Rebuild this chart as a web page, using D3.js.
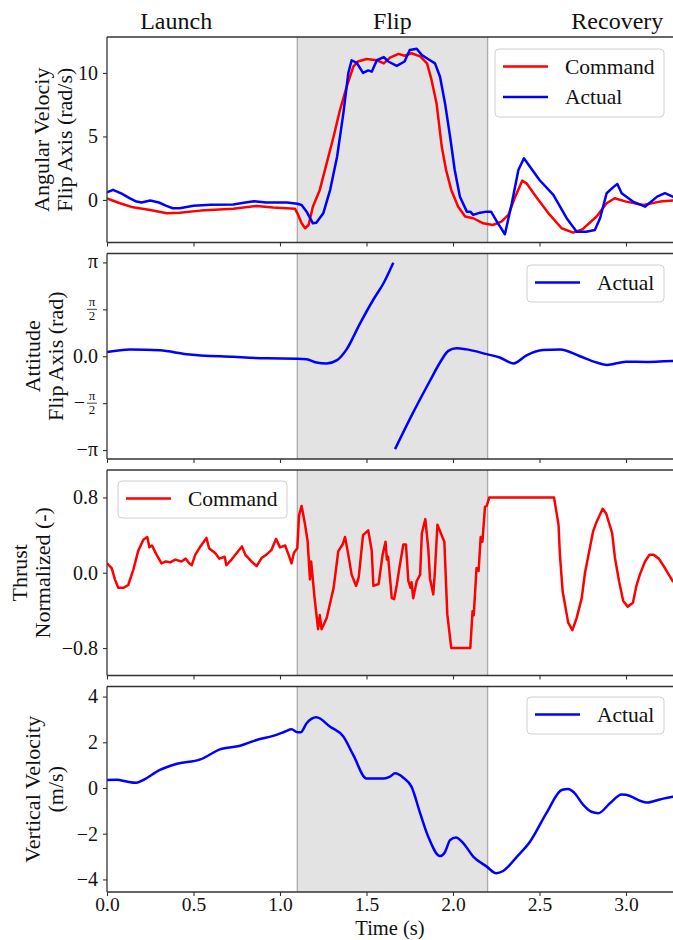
<!DOCTYPE html>
<html>
<head>
<meta charset="utf-8">
<script src="https://cdn.jsdelivr.net/npm/d3@7/dist/d3.min.js"></script>
<style>
  body { margin: 0; background: #fff; }
  svg { display: block; font-family: "Liberation Serif", "Times New Roman", serif; }
</style>
</head>
<body>
<svg id="chart" width="673" height="940"></svg>
<script>
'use strict'

// ---- data ----
const phaseNames = ['Launch', 'Flip', 'Recovery']
const phaseCenters = [0.4, 1.65, 2.95]
const flipSpan = [1.1, 2.2]
const timeTicks = [0, 0.5, 1.0, 1.5, 2.0, 2.5, 3.0]

// angular velocity, [time s, rad/s]
const rateCommand = [[0,0.13],[0.075,-0.26],[0.15,-0.58],[0.25,-0.79],[0.345,-1.05],[0.42,-1.0],[0.54,-0.84],[0.73,-0.7],[0.865,-0.47],[0.96,-0.6],[1.087,-0.7],[1.105,-1.18],[1.125,-1.84],[1.145,-2.23],[1.165,-1.97],[1.19,-0.53],[1.23,0.79],[1.27,2.9],[1.31,5.0],[1.347,7.1],[1.385,8.9],[1.424,10.5],[1.45,10.9],[1.5,11.1],[1.56,11.0],[1.6,10.75],[1.636,11.2],[1.685,11.5],[1.72,11.35],[1.76,11.55],[1.81,11.3],[1.85,10.75],[1.876,9.45],[1.905,7.6],[1.935,4.2],[1.96,2.36],[1.99,0.79],[2.03,-0.53],[2.07,-1.3],[2.117,-1.44],[2.175,-1.84],[2.23,-1.97],[2.28,-1.7],[2.32,-1.18],[2.36,0.26],[2.4,1.52],[2.425,1.31],[2.48,0.26],[2.56,-1.18],[2.628,-2.23],[2.695,-2.57],[2.75,-2.3],[2.83,-1.3],[2.888,-0.26],[2.935,0.13],[3.0,-0.13],[3.1,-0.4],[3.196,-0.13],[3.27,-0.05],[3.3,-0.05]]
const rateActual = [[0,0.6],[0.035,0.8],[0.085,0.5],[0.13,0.15],[0.17,-0.13],[0.2,-0.2],[0.25,-0.05],[0.3,-0.2],[0.34,-0.45],[0.38,-0.65],[0.42,-0.65],[0.5,-0.45],[0.6,-0.37],[0.73,-0.35],[0.8,-0.2],[0.85,-0.1],[0.92,-0.2],[1.04,-0.2],[1.1,-0.3],[1.125,-0.4],[1.154,-0.92],[1.19,-1.84],[1.21,-1.8],[1.25,-1.05],[1.29,0.8],[1.33,3.4],[1.366,6.8],[1.395,10.0],[1.414,11.0],[1.443,10.8],[1.48,10.0],[1.51,10.2],[1.53,10.1],[1.56,11.0],[1.6,11.25],[1.626,10.9],[1.675,10.55],[1.72,10.9],[1.75,11.8],[1.79,11.9],[1.82,11.4],[1.867,11.0],[1.896,10.75],[1.925,9.7],[1.954,7.6],[1.983,5.0],[2.01,2.36],[2.04,0.26],[2.08,-0.92],[2.1,-0.92],[2.117,-1.18],[2.156,-1.0],[2.195,-0.92],[2.22,-0.92],[2.26,-1.84],[2.3,-2.7],[2.34,-0.26],[2.378,2.36],[2.41,3.28],[2.445,2.62],[2.5,1.57],[2.58,0.4],[2.657,-1.44],[2.715,-2.5],[2.77,-2.5],[2.82,-2.36],[2.85,-1.44],[2.888,0.53],[2.93,1.05],[2.95,1.26],[2.975,0.53],[3.04,-0.13],[3.11,-0.53],[3.18,0.26],[3.225,0.53],[3.27,0.26],[3.3,0.3]]

// attitude, [time s, rad]; null marks the wrap from +pi to -pi
const attitudeActual = [[0,0.14],[0.133,0.23],[0.306,0.2],[0.46,0.07],[0.73,-0.02],[0.923,-0.07],[1.1,-0.08],[1.154,-0.1],[1.21,-0.21],[1.27,-0.24],[1.33,-0.13],[1.385,0.23],[1.46,1.07],[1.54,1.9],[1.6,2.46],[1.655,3.13],null,[1.665,-3.11],[1.77,-1.88],[1.867,-0.82],[1.925,-0.21],[1.973,0.18],[2.02,0.27],[2.08,0.23],[2.195,0.07],[2.27,-0.04],[2.35,-0.24],[2.425,0.03],[2.52,0.21],[2.62,0.23],[2.73,0.01],[2.83,-0.21],[2.89,-0.29],[3.0,-0.18],[3.12,-0.19],[3.27,-0.16],[3.3,-0.16]]

// normalized thrust command
const thrustCommand = [[0,0.1],[0.027,0.05],[0.046,-0.07],[0.065,-0.16],[0.094,-0.16],[0.123,-0.13],[0.152,0.03],[0.18,0.23],[0.21,0.35],[0.233,0.38],[0.245,0.27],[0.26,0.29],[0.287,0.19],[0.315,0.1],[0.34,0.12],[0.365,0.11],[0.395,0.14],[0.43,0.12],[0.455,0.15],[0.475,0.1],[0.49,0.08],[0.51,0.19],[0.54,0.28],[0.575,0.37],[0.59,0.26],[0.625,0.21],[0.65,0.15],[0.68,0.17],[0.69,0.08],[0.72,0.14],[0.75,0.21],[0.78,0.28],[0.8,0.19],[0.835,0.12],[0.865,0.07],[0.895,0.16],[0.92,0.19],[0.95,0.24],[0.977,0.36],[1.0,0.27],[1.03,0.29],[1.05,0.19],[1.067,0.1],[1.08,0.21],[1.1,0.26],[1.11,0.61],[1.125,0.71],[1.145,0.51],[1.16,0.33],[1.173,-0.07],[1.18,0.12],[1.2,-0.27],[1.22,-0.6],[1.23,-0.45],[1.24,-0.6],[1.27,-0.48],[1.31,-0.16],[1.337,0.23],[1.362,0.3],[1.376,0.38],[1.395,0.19],[1.414,-0.02],[1.44,-0.14],[1.455,-0.05],[1.48,0.4],[1.51,0.45],[1.53,0.24],[1.54,-0.14],[1.57,-0.12],[1.593,0.19],[1.61,0.33],[1.618,0.14],[1.625,0.17],[1.646,-0.27],[1.66,-0.28],[1.675,-0.13],[1.69,0.05],[1.713,0.3],[1.728,0.3],[1.742,-0.09],[1.755,-0.16],[1.76,-0.1],[1.77,-0.27],[1.79,-0.09],[1.81,-0.02],[1.82,0.42],[1.84,0.57],[1.857,0.26],[1.867,-0.06],[1.886,-0.23],[1.895,0.0],[1.91,0.51],[1.95,0.33],[1.967,-0.44],[1.99,-0.8],[2.1,-0.8],[2.113,-0.41],[2.12,-0.45],[2.136,0.05],[2.148,0.02],[2.16,0.38],[2.17,0.33],[2.185,0.7],[2.195,0.71],[2.21,0.8],[2.584,0.8],[2.61,0.51],[2.618,0.19],[2.634,-0.2],[2.666,-0.53],[2.69,-0.61],[2.715,-0.48],[2.744,-0.27],[2.763,0.0],[2.78,0.16],[2.81,0.44],[2.83,0.54],[2.865,0.68],[2.885,0.63],[2.92,0.42],[2.936,0.16],[2.96,-0.09],[2.984,-0.3],[3.01,-0.36],[3.04,-0.32],[3.06,-0.14],[3.08,-0.02],[3.11,0.12],[3.135,0.19],[3.16,0.19],[3.19,0.15],[3.225,0.05],[3.27,-0.09],[3.3,-0.12]]

// vertical velocity, m/s
const vzActual = [[0,0.35],[0.056,0.36],[0.114,0.28],[0.17,0.23],[0.21,0.35],[0.306,0.79],[0.4,1.05],[0.54,1.25],[0.653,1.69],[0.77,1.85],[0.865,2.1],[0.96,2.28],[1.03,2.47],[1.067,2.57],[1.1,2.44],[1.12,2.44],[1.154,2.83],[1.21,3.09],[1.29,2.68],[1.366,2.25],[1.424,1.44],[1.5,0.42],[1.56,0.42],[1.6,0.42],[1.636,0.5],[1.665,0.64],[1.713,0.45],[1.76,0.06],[1.81,-1.1],[1.857,-2.13],[1.925,-2.98],[1.954,-2.8],[1.983,-2.28],[2.017,-2.17],[2.06,-2.42],[2.117,-3.0],[2.195,-3.44],[2.25,-3.73],[2.29,-3.63],[2.37,-3.0],[2.445,-2.35],[2.54,-1.1],[2.628,-0.09],[2.666,-0.04],[2.7,-0.2],[2.753,-0.74],[2.8,-1.04],[2.84,-1.1],[2.907,-0.67],[2.975,-0.28],[3.0,-0.3],[3.12,-0.64],[3.196,-0.5],[3.27,-0.38],[3.3,-0.36]]

const rateTicks = [0, 5, 10]
const attitudeTicks = [-Math.PI, -Math.PI / 2, 0, Math.PI / 2, Math.PI]
const thrustTicks = [-0.8, 0, 0.8]
const vzTicks = [-4, -2, 0, 2, 4]

// ---- layout ----
const svg = d3.select('#chart')
const left = 107, panelH = 205.5
const x = d3.scaleLinear().domain([0, 3.3]).range([left, left + 3.3 * 173])
const plotRight = 673
const spine = '#333'
const minus = s => String(s).replace('-', '\u2212')

const panels = [
  { top: 37, domain: [-3.35, 12.83], ticks: rateTicks, tickFmt: d => minus(d),
    label: ['Angular Velociy', 'Flip Axis (rad/s)'], labelX: [42, 65],
    series: [{ data: rateCommand, color: 'red', name: 'Command' },
             { data: rateActual, color: 'blue', name: 'Actual' }],
    legend: { x: 495, y: 49, w: 169, h: 68 } },
  { top: 253.5, domain: [-3.44, 3.44], ticks: attitudeTicks, piTicks: true,
    label: ['Attitude', 'Flip Axis (rad)'], labelX: [33, 56],
    series: [{ data: attitudeActual, color: 'blue', name: 'Actual', smooth: true }],
    legend: { x: 527, y: 265, w: 137, h: 37 } },
  { top: 470, domain: [-1.092, 1.092], ticks: thrustTicks, tickFmt: d => minus(d.toFixed(1)),
    label: ['Thrust', 'Normalized (-)'], labelX: [20, 43],
    series: [{ data: thrustCommand, color: 'red', name: 'Command' }],
    legend: { x: 118, y: 481, w: 169, h: 37 } },
  { top: 686.5, domain: [-4.55, 4.44], ticks: vzTicks, tickFmt: d => minus(d),
    label: ['Vertical Velocity', '(m/s)'], labelX: [33, 56],
    series: [{ data: vzActual, color: 'blue', name: 'Actual', smooth: true }],
    legend: { x: 527, y: 697, w: 137, h: 37 } }
]

// phase titles
svg.selectAll('.phase').data(phaseNames).enter().append('text')
  .attr('class', 'phase')
  .attr('x', (d, i) => x(phaseCenters[i]))
  .attr('y', 29)
  .attr('text-anchor', 'middle')
  .attr('font-size', 24)
  .attr('fill', '#111')
  .text(d => d)

panels.forEach((p, pi) => {
  const bottom = p.top + panelH
  const y = d3.scaleLinear().domain(p.domain).range([bottom, p.top])
  const g = svg.append('g')

  g.append('clipPath').attr('id', 'clip' + pi)
    .append('rect').attr('x', left).attr('y', p.top).attr('width', plotRight - left).attr('height', panelH)

  // flip window
  g.append('rect')
    .attr('x', x(flipSpan[0])).attr('y', p.top)
    .attr('width', x(flipSpan[1]) - x(flipSpan[0])).attr('height', panelH)
    .attr('fill', '#e3e3e3')
  flipSpan.forEach(t => {
    g.append('line').attr('x1', x(t)).attr('x2', x(t)).attr('y1', p.top).attr('y2', bottom)
      .attr('stroke', '#aaa').attr('stroke-width', 1.3)
  })

  // series
  p.series.forEach(s => {
    const line = d3.line()
      .defined(d => d != null)
      .x(d => x(d[0])).y(d => y(d[1]))
      .curve(s.smooth ? d3.curveMonotoneX : d3.curveLinear)
    g.append('path').datum(s.data)
      .attr('clip-path', `url(#clip${pi})`)
      .attr('d', line)
      .attr('fill', 'none')
      .attr('stroke', s.color)
      .attr('stroke-width', 2.5)
      .attr('stroke-linejoin', 'round')
  })

  // spines
  g.append('line').attr('x1', left).attr('x2', plotRight).attr('y1', p.top).attr('y2', p.top)
    .attr('stroke', spine).attr('stroke-width', 1.3)
  g.append('line').attr('x1', left).attr('x2', plotRight).attr('y1', bottom).attr('y2', bottom)
    .attr('stroke', spine).attr('stroke-width', 1.3)
  g.append('line').attr('x1', left).attr('x2', left).attr('y1', p.top).attr('y2', bottom)
    .attr('stroke', spine).attr('stroke-width', 1.3)

  // x ticks on every panel, labels only on the last
  const isLast = pi === panels.length - 1
  const xAxis = g.append('g').attr('transform', `translate(0,${bottom})`)
    .call(d3.axisBottom(x).tickValues(timeTicks).tickSize(4).tickPadding(1)
      .tickFormat(isLast ? d3.format('.1f') : ''))
  xAxis.select('.domain').remove()
  xAxis.selectAll('.tick line').attr('stroke', spine).attr('stroke-width', 1.1)
  xAxis.selectAll('.tick text').attr('font-size', 19.5).attr('fill', '#111')
    .attr('font-family', '"Liberation Serif", serif')

  // y ticks
  const yAxis = g.append('g').attr('transform', `translate(${left},0)`)
    .call(d3.axisLeft(y).tickValues(p.ticks).tickSize(4).tickPadding(5)
      .tickFormat(p.piTicks ? '' : p.tickFmt))
  yAxis.select('.domain').remove()
  yAxis.selectAll('.tick line').attr('stroke', spine).attr('stroke-width', 1.1)
  yAxis.selectAll('.tick text').attr('font-size', 20).attr('fill', '#111')
    .attr('font-family', '"Liberation Serif", serif')

  if (p.piTicks) {
    p.ticks.forEach(v => {
      const ty = y(v)
      const neg = v < 0
      const mag = Math.abs(v)
      if (mag === 0) {
        g.append('text').attr('x', 98).attr('y', ty + 7).attr('text-anchor', 'end')
          .attr('font-size', 20).attr('fill', '#111').text('0.0')
      } else if (Math.abs(mag - Math.PI) < 1e-6) {
        g.append('text').attr('x', 98).attr('y', ty + 6).attr('text-anchor', 'end')
          .attr('font-size', 20).attr('fill', '#111').text((neg ? '\u2212' : '') + '\u03c0')
      } else {
        const cx = 92
        g.append('text').attr('x', cx).attr('y', ty - 3).attr('text-anchor', 'middle')
          .attr('font-size', 13).attr('fill', '#111').text('\u03c0')
        g.append('line').attr('x1', cx - 5).attr('x2', cx + 5).attr('y1', ty).attr('y2', ty)
          .attr('stroke', '#111').attr('stroke-width', 0.8)
        g.append('text').attr('x', cx).attr('y', ty + 11).attr('text-anchor', 'middle')
          .attr('font-size', 13).attr('fill', '#111').text('2')
        if (neg) {
          g.append('text').attr('x', cx - 7).attr('y', ty + 6).attr('text-anchor', 'end')
            .attr('font-size', 20).attr('fill', '#111').text('\u2212')
        }
      }
    })
  }

  // y label (two lines)
  const cy = p.top + panelH / 2
  p.label.forEach((txt, li) => {
    g.append('text')
      .attr('transform', `translate(${p.labelX[li]},${cy}) rotate(-90)`)
      .attr('text-anchor', 'middle')
      .attr('dy', '0.32em')
      .attr('font-size', 22)
      .attr('fill', '#111')
      .text(txt)
  })

  // legend
  const L = p.legend
  const lg = g.append('g')
  lg.append('rect').attr('x', L.x).attr('y', L.y).attr('width', L.w).attr('height', L.h)
    .attr('rx', 4).attr('fill', 'white').attr('fill-opacity', 0.85)
    .attr('stroke', '#d0d0d0').attr('stroke-width', 1)
  p.series.forEach((s, si) => {
    const ry = L.y + 17.5 + si * 30.5
    lg.append('line').attr('x1', L.x + 8).attr('x2', L.x + 53).attr('y1', ry).attr('y2', ry)
      .attr('stroke', s.color).attr('stroke-width', 2.5)
    lg.append('text').attr('x', L.x + 70).attr('y', ry + 7)
      .attr('font-size', 21.5).attr('fill', '#111').text(s.name)
  })
})

// x label
svg.append('text')
  .attr('x', 390).attr('y', 935)
  .attr('text-anchor', 'middle')
  .attr('font-size', 20.5)
  .attr('fill', '#111')
  .text('Time (s)')
</script>
</body>
</html>
